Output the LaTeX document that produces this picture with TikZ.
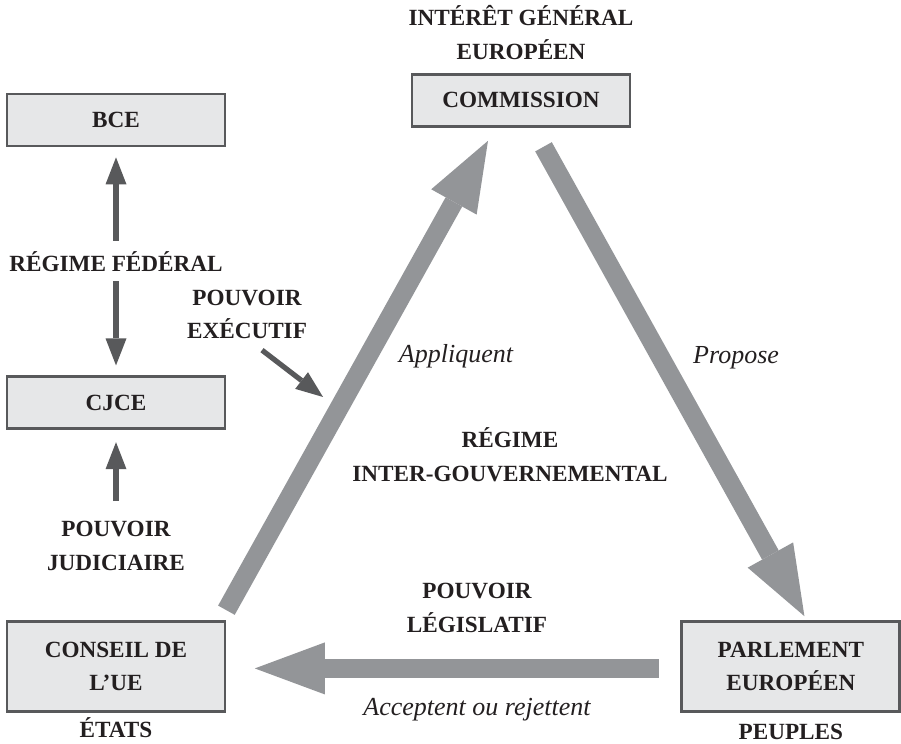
\documentclass[tikz,border=0pt]{standalone}
\usepackage{fontspec}
\setmainfont{Liberation Serif}
\usepackage{xcolor}
\usetikzlibrary{arrows.meta, positioning}
\definecolor{boxgrey}{RGB}{230,231,232}
\definecolor{darkgrey}{RGB}{88,89,91}
\definecolor{midgrey}{RGB}{147,149,152}
\definecolor{ink}{RGB}{35,31,32}
\tikzset{> = { Triangle[length = 0.675cm, width = 0.525cm, line width = 0pt] }}

\begin{document}
\begin{tikzpicture}[box/.style = { draw = darkgrey, line width = 2pt, fill = boxgrey, minimum width = 5.45cm, minimum height = 1.3cm, align = center, text = ink, font = \bfseries\fontsize{16.5}{24}\selectfont },
		lbl/.style = { align = center, text = ink, inner sep = 2pt, font = \bfseries\fontsize{16.5}{24}\selectfont },
		verbe/.style = { text = ink, inner sep = 2pt, font = \itshape\fontsize{18.5}{22}\selectfont },
		smallarr/.style = { draw = darkgrey, line width = 0.13cm },
		bigarr/.style = { draw = midgrey, line width = 0.475cm, -{Triangle[length = 1.75cm, width = 1.3cm, line width = 0pt]} }]
		\useasboundingbox (0,0) rectangle (22.525,18.6);

		\node [box] (bce) at (2.9,15.6) {BCE};
		\node [box, below = 5.7 of bce] (cjce) {CJCE};
		\node [box, minimum height = 2.24cm, below = 4.75 of cjce] (cons) {CONSEIL DE\\L’UE};
		\node [box, minimum height = 2.24cm, right = 11.35 of cons] (parl) {PARLEMENT\\EUROPÉEN};
		\node [box] (com) at (13.025,16.09) {COMMISSION};

		\node [lbl, above = 0.25 of com] (interet) {INTÉRÊT GÉNÉRAL\\EUROPÉEN};
		\node [lbl, below = 0.05 of cons] (etats) {ÉTATS};
		\node [lbl, below = 0.22 of parl] (peuples) {PEUPLES};
		\node [lbl] (exec) at (6.175,10.74) {POUVOIR\\EXÉCUTIF};
		\node [lbl] (jud) at (2.9,4.95) {POUVOIR\\JUDICIAIRE};
		\node [lbl] (intergouv) at (12.75,7.225) {RÉGIME\\INTER-GOUVERNEMENTAL};
		\coordinate (hit) at (8.075,8.675);

		\draw [smallarr, <->, shorten < = 0.25cm, shorten > = 0.25cm] (cjce) -- node[lbl, fill = white, inner ysep = 0.25cm]{RÉGIME FÉDÉRAL} (bce);
		\draw [smallarr, ->, shorten > = 0.3cm] ([yshift = 0.43cm]jud.north) -- (cjce);
		\draw [smallarr, ->] ([xshift = 0.375cm, yshift = -0.2cm]exec.south) -- (hit);

		\draw [bigarr] ([yshift = 0.25cm]cons.north east) -- node[verbe, pos = 0.54, right = 0.475cm]{Appliquent} ([xshift = -0.825cm, yshift = -0.325cm]com.south);
		\draw [bigarr] ([xshift = 0.5625cm, yshift = -0.475cm]com.south) -- node[verbe, pos = 0.45, right = 0.5cm]{Propose} ([xshift = 0.34cm, yshift = 0.1cm]parl.north);
		\draw [bigarr] ([xshift = -0.54cm, yshift = -0.05cm]parl.west) -- node[lbl, pos = 0.45, above = 0.58cm]{POUVOIR\\LÉGISLATIF} node[verbe, pos = 0.45, below = 0.43cm]{Acceptent ou rejettent} ([xshift = 0.71cm, yshift = -0.05cm]cons.east);
	\end{tikzpicture}
\end{document}
